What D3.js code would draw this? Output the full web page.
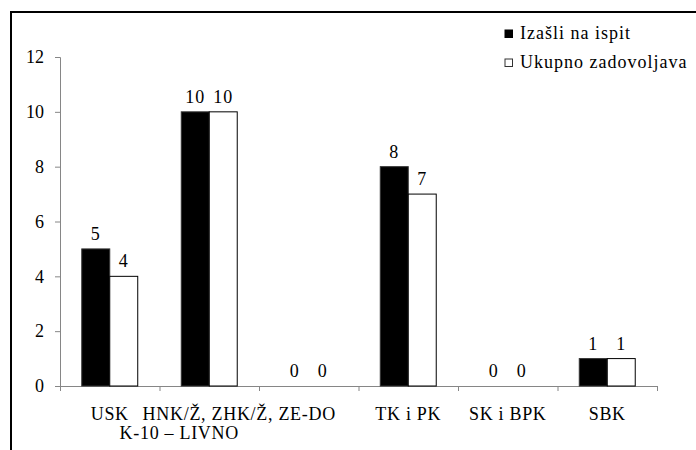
<!DOCTYPE html>
<html>
<head>
<meta charset="utf-8">
<script src="https://cdn.jsdelivr.net/npm/d3@7"></script>
<style>
    body { margin: 0; background: #fff; }
</style>
</head>
<body>
<div id="bar_chart"></div>
<script>
const categories = ["USK", "HNK/Ž, ZHK/Ž, ZE-DO", "", "TK i PK", "SK i BPK", "SBK"];
// the second line of the HNK label sits half under USK in the original
const secondLine = ["", "K-10 – LIVNO", "", "", "", ""];
const izasli = [5, 10, 0, 8, 0, 1];
const zadovoljava = [4, 10, 0, 7, 0, 1];
const seriesNames = ["Izašli na ispit", "Ukupno zadovoljava"];
const yTicks = [0, 2, 4, 6, 8, 10, 12];

const width = 696, height = 450;
const margin = { top: 57, right: 39, bottom: 64, left: 60 };
const serif = "Liberation Serif";

const svg = d3.select("#bar_chart").append("svg")
    .attr("width", width)
    .attr("height", height);

// frame, cut off at right and bottom like the source image
svg.append("rect")
    .attr("x", 11).attr("y", 12)
    .attr("width", width + 10).attr("height", height + 10)
    .attr("fill", "none")
    .attr("stroke", "#000")
    .attr("stroke-width", 2);

const x0 = d3.scaleBand()
    .domain(d3.range(categories.length))
    .range([margin.left, width - margin.right])
    .paddingInner(0.4375)
    .paddingOuter(0.21875);

const x1 = d3.scaleBand()
    .domain([0, 1])
    .range([0, x0.bandwidth()]);

const y = d3.scaleLinear()
    .domain([0, 12])
    .range([height - margin.bottom, margin.top]);

// boundary ticks between categories
const xb = d3.scaleLinear()
    .domain([0, categories.length])
    .range([margin.left, width - margin.right]);

const gy = svg.append("g")
    .attr("transform", `translate(${margin.left},0)`)
    .call(d3.axisLeft(y).tickValues(yTicks).tickSize(5).tickPadding(11));
gy.attr("font-family", null).attr("font-size", null);
gy.selectAll("line, path").attr("stroke", "#868686");
gy.selectAll("text").attr("fill", "#000").attr("font-size", 18);

const gx = svg.append("g")
    .attr("transform", `translate(0,${y(0)})`)
    .call(d3.axisBottom(xb).tickValues(d3.range(categories.length + 1)).tickSize(5).tickSizeOuter(5).tickFormat(""));
gx.attr("font-family", null);
gx.selectAll("line, path").attr("stroke", "#868686");

const data = categories.map((c, i) => [izasli[i], zadovoljava[i]]);
const fills = ["#000", "#fff"];

const groups = svg.append("g")
    .selectAll("g")
    .data(data)
    .join("g")
    .attr("transform", (d, i) => `translate(${x0(i)},0)`);

groups.selectAll("rect")
    .data(d => d.map((v, k) => ({ v, k })))
    .join("rect")
    .filter(d => d.v > 0)
    .attr("x", d => x1(d.k))
    .attr("y", d => y(d.v))
    .attr("width", x1.bandwidth())
    .attr("height", d => y(0) - y(d.v))
    .attr("fill", d => fills[d.k])
    .attr("stroke", d => d.k === 0 ? "#333" : "#000")
    .attr("stroke-width", 1);

groups.selectAll("text")
    .data(d => d.map((v, k) => ({ v, k })))
    .join("text")
    .attr("x", d => x1(d.k) + x1.bandwidth() / 2)
    .attr("y", d => y(d.v) - 9)
    .attr("text-anchor", "middle")
    .attr("font-size", 18)
    .attr("letter-spacing", 1)
    .text(d => d.v);

// category labels
svg.selectAll("text.l1")
    .data(categories)
    .join("text")
    .attr("class", "l1")
    .attr("x", (d, i) => x0(i) + x0.bandwidth() / 2 + (i === 1 ? 30 : 0))
    .attr("y", 420)
    .attr("text-anchor", "middle")
    .attr("font-size", 18)
    .attr("letter-spacing", 0.7)
    .text(d => d);

svg.selectAll("text.l2")
    .data(secondLine)
    .join("text")
    .attr("class", "l2")
    .attr("x", (d, i) => x0(i) + x0.bandwidth() / 2 - 30)
    .attr("y", 439)
    .attr("text-anchor", "middle")
    .attr("font-size", 18)
    .attr("letter-spacing", 0.7)
    .text(d => d);

// legend
const legend = svg.append("g")
    .attr("transform", "translate(505,30)")
    .selectAll("g")
    .data(seriesNames)
    .join("g")
    .attr("transform", (d, i) => `translate(0,${i * 29})`);

legend.append("rect")
    .attr("x", 0).attr("y", 0)
    .attr("width", 7.5).attr("height", 7.5)
    .attr("fill", (d, i) => fills[i])
    .attr("stroke", (d, i) => i === 0 ? "#000" : "#333")
    .attr("stroke-width", 1);

legend.append("text")
    .attr("x", 15)
    .attr("y", 9)
    .attr("font-size", 18)
    .attr("letter-spacing", 1)
    .text(d => d);

svg.selectAll("text")
    .attr("font-family", serif)
    .style("font-family", serif);
</script>
</body>
</html>
